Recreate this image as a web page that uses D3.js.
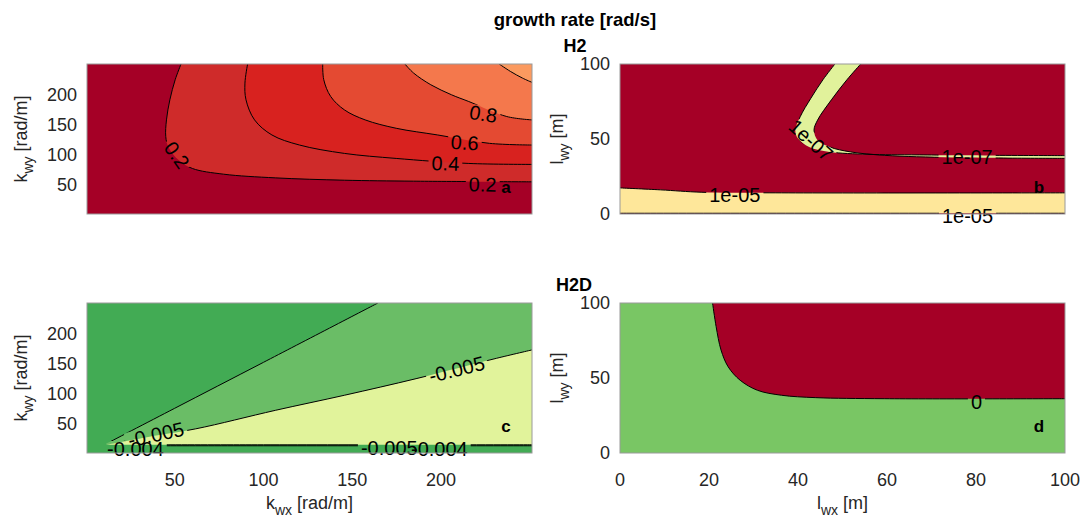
<!DOCTYPE html>
<html>
<head>
<meta charset="utf-8">
<script src="https://cdn.jsdelivr.net/npm/d3@7/dist/d3.min.js"></script>
<style>
  body { margin: 0; background: #fff; }
  svg text { font-family: "Liberation Sans", Arial, Helvetica, sans-serif; }
</style>
</head>
<body>
<svg id="fig" width="1080" height="518"></svg>
<script>
// ---- axis ranges and tick labels ----
const kDomain = [0.628, 251.3];          // wavenumber axes [rad/m]
const lDomain = [0, 100];                // wavelength axes [m]
const kTicks = [50, 100, 150, 200];
const lxTicks = [0, 20, 40, 60, 80, 100];
const lyTicks = [0, 50, 100];

// ---- panel a: H2 growth rate over (k_wx, k_wy) ----
const levelsA = [0.2, 0.4, 0.6, 0.8, 1.0];
const fillsA = ["#a50026", "#cf2b2a", "#d8221f", "#e44a32", "#f4784c", "#fb9a5f"];
const contA02 = [[53.6,251.3],[50.3,225.0],[47.3,191.4],[45.4,157.9],[45.0,129.9],[46.4,113.1],[52.2,90.7],[60.0,76.7],[77.5,67.2],[106.7,61.0],[145.6,57.1],[184.6,55.5],[251.3,54.4]];
const contA04 = [[91.1,251.3],[89.6,219.4],[90.2,191.4],[95.0,157.9],[104.8,132.7],[120.3,115.9],[145.6,101.9],[174.8,93.5],[215.7,85.1],[251.3,83.5]];
const contA06 = [[133.4,251.3],[134.0,225.0],[137.9,197.0],[145.6,174.7],[157.3,157.9],[174.8,143.9],[198.2,132.7],[227.4,118.7],[251.3,115.9]];
const contA08 = [[179.7,251.3],[184.6,236.2],[194.3,216.6],[206.0,199.8],[215.7,188.6],[237.1,163.5],[251.3,157.9]];
const contA10 = [[232.8,251.3],[239.1,239.0],[245.9,227.8],[251.3,220.6]];
const labelsA = [
  { text: "0.2", x: 51.2, y: 99.1, angle: 55 },
  { text: "0.2", x: 223.5, y: 49.9, angle: 1 },
  { text: "0.4", x: 202.5, y: 85.1, angle: 2 },
  { text: "0.6", x: 213.4, y: 119.8, angle: 4 },
  { text: "0.8", x: 223.9, y: 167.9, angle: 9 }
];

// ---- panel b: H2 growth rate over (l_wx, l_wy) ----
const fillsB = ["#a50026", "#e1f29b", "#fee79a"];
const contB07outer = [[48.3,100],[45.6,89.5],[42.9,77.2],[40.5,64.9],[39.4,55.9],[40.0,50.3],[42.5,44.7],[47.1,41.4],[55.7,39.8],[67.3,39.4],[100,38.9]];
const contB07inner = [[54.1,100],[51.0,89.5],[47.5,76.1],[44.4,62.6],[43.6,55.9],[44.4,49.2],[47.1,44.7],[51.8,41.4],[59.5,39.1],[75.0,37.6],[100,37.1]];
const contB05upper = [[0,17.4],[9.1,16.1],[18.4,14.5],[36.3,14.1],[100,14.1]];
const contB05lower = [[0,0.5],[50,0.5],[100,0.5]];
const labelsB = [
  { text: "1e-07", x: 42.9, y: 49.2, angle: 42 },
  { text: "1e-07", x: 78.0, y: 38.0, angle: 0 },
  { text: "1e-05", x: 25.8, y: 13.0, angle: 0 },
  { text: "1e-05", x: 78.1, y: -1.1, angle: 0 }
];

// ---- panel c: H2D growth rate over (k_wx, k_wy) ----
const fillsC = ["#42ab54", "#6abd66", "#e1f39b"];
const contCupper = [[11.3,15.8],[50,75.3],[100,152.1],[164.5,251.3]];
const contCmid = [[11.8,14.6],[35,27.5],[61.9,41.0],[106.7,71.9],[145.6,97.1],[186.5,125.2],[231.2,158.8],[251.3,172.9]];
const contCbot1 = [[11.8,14.3],[100,14.3],[251.3,14.3]];
const contCbot2 = [[13.5,12.7],[100,12.7],[251.3,12.7]];
const labelsC = [
  { text: "-0.005", x: 208.9, y: 140.3, angle: -14 },
  { text: "-0.005", x: 39.5, y: 31.5, angle: -12 },
  { text: "-0.004", x: 27.9, y: 7.4, angle: 0 },
  { text: "-0.005", x: 170.9, y: 8.5, angle: 0 },
  { text: "-0.004", x: 199.1, y: 7.4, angle: 0 }
];

// ---- panel d: H2D growth rate over (l_wx, l_wy) ----
const fillsD = ["#79c664", "#a50026"];
const contD0 = [[20.8,100],[21.6,84.3],[22.7,68.7],[24.3,57.5],[27.0,48.5],[30.9,41.8],[36.3,38.5],[44.0,36.9],[59.5,36.2],[100,36.2]];
const labelsD = [{ text: "0", x: 80.1, y: 34.0, angle: 0 }];

// ---- layout ----
const svg = d3.select("#fig");
const PW = 445, PH = 150;
const INK = "#262626";
const smooth = d3.line().curve(d3.curveCatmullRom.alpha(0.5));

function ringPath(parts, xs, ys) {
  let d = "";
  parts.forEach((pts, i) => {
    const px = pts.map(p => [xs(p[0]), ys(p[1])]);
    let seg;
    if (px.length === 1) seg = "L" + px[0][0] + "," + px[0][1];
    else {
      seg = smooth(px);
      if (i > 0) seg = "L" + seg.slice(1);
    }
    d += seg;
  });
  return d + "Z";
}

function panel(id, x0, y0, xDom, yDom, cfg) {
  const xs = d3.scaleLinear().domain(xDom).range([0, PW]);
  const ys = d3.scaleLinear().domain(yDom).range([PH, 0]);
  const g = svg.append("g").attr("transform", `translate(${x0},${y0})`);
  const defs = svg.append("defs");
  defs.append("clipPath").attr("id", "clip-" + id)
    .append("rect").attr("width", PW).attr("height", PH);

  const body = g.append("g").attr("clip-path", `url(#clip-${id})`);
  body.append("rect").attr("width", PW).attr("height", PH).attr("fill", cfg.background);
  cfg.regions.forEach(r => {
    body.append("path").attr("d", ringPath(r.parts, xs, ys)).attr("fill", r.fill);
  });

  // labels first (to measure), lines masked around them
  const lab = g.append("g");
  const texts = cfg.labels.map(l => {
    return lab.append("text")
      .attr("transform", `translate(${xs(l.x)},${ys(l.y)}) rotate(${l.angle})`)
      .attr("text-anchor", "middle").attr("dy", "0.35em")
      .attr("font-size", 20).attr("fill", "#000").text(l.text);
  });
  const mask = defs.append("mask").attr("id", "mask-" + id)
    .attr("maskUnits", "userSpaceOnUse")
    .attr("x", -20).attr("y", -20).attr("width", PW + 40).attr("height", PH + 40);
  mask.append("rect").attr("x", -20).attr("y", -20).attr("width", PW + 40).attr("height", PH + 40).attr("fill", "#fff");
  cfg.labels.forEach((l, i) => {
    const w = texts[i].node().getComputedTextLength() + 6;
    mask.append("rect")
      .attr("transform", `translate(${xs(l.x)},${ys(l.y)}) rotate(${l.angle})`)
      .attr("x", -w / 2).attr("y", -8).attr("width", w).attr("height", 16)
      .attr("fill", "#000");
  });
  const lines = body.append("g").attr("mask", `url(#mask-${id})`);
  cfg.lines.forEach(pts => {
    lines.append("path").attr("d", smooth(pts.map(p => [xs(p[0]), ys(p[1])])))
      .attr("fill", "none").attr("stroke", "#000").attr("stroke-width", 1);
  });
  lab.raise();

  // frame
  g.append("rect").attr("width", PW).attr("height", PH)
    .attr("fill", "none").attr("stroke", "#9a9a9a").attr("stroke-width", 1);

  // ticks
  if (cfg.xTicks) {
    g.selectAll(null).data(cfg.xTicks).join("text")
      .attr("x", d => xs(d)).attr("y", PH + 33)
      .attr("text-anchor", "middle").attr("font-size", 18).attr("fill", INK)
      .text(d => d);
  }
  g.selectAll(null).data(cfg.yTicks).join("text")
    .attr("x", -10).attr("y", d => ys(d)).attr("dy", "0.35em")
    .attr("text-anchor", "end").attr("font-size", 18).attr("fill", INK)
    .text(d => d);

  // panel letter
  g.append("text").attr("x", PW - 26).attr("y", PH - 21)
    .attr("font-size", 17).attr("font-weight", "bold").attr("fill", "#000")
    .attr("text-anchor", "middle").text(id);

  // axis titles
  const yl = g.append("text").attr("transform", `translate(${cfg.yLabelX},${PH / 2}) rotate(-90)`)
    .attr("text-anchor", "middle").attr("font-size", 18).attr("fill", INK);
  yl.append("tspan").text(cfg.yLabel[0]);
  yl.append("tspan").attr("dy", 6).attr("font-size", 14).text(cfg.yLabel[1]);
  yl.append("tspan").attr("dy", -6).text(" " + cfg.yLabel[2]);
  if (cfg.xLabel) {
    const xl = g.append("text").attr("x", PW / 2).attr("y", PH + 56)
      .attr("text-anchor", "middle").attr("font-size", 18).attr("fill", INK);
    xl.append("tspan").text(cfg.xLabel[0]);
    xl.append("tspan").attr("dy", 6).attr("font-size", 14).text(cfg.xLabel[1]);
    xl.append("tspan").attr("dy", -6).text(" " + cfg.xLabel[2]);
  }
}

const kmax = kDomain[1];

panel("a", 87, 64, kDomain, kDomain, {
  background: fillsA[0],
  regions: [contA02, contA04, contA06, contA08, contA10].map((c, i) => ({
    parts: [c, [[kmax, kmax]]], fill: fillsA[i + 1]
  })),
  lines: [contA02, contA04, contA06, contA08, contA10],
  labels: labelsA,
  yTicks: kTicks, yLabel: ["k", "wy", "[rad/m]"], yLabelX: -60
});

panel("b", 620, 64, lDomain, lDomain, {
  background: fillsB[0],
  regions: [
    { parts: [contB07outer, contB07inner.slice().reverse()], fill: fillsB[1] },
    { parts: [contB05upper, contB05lower.slice().reverse()], fill: fillsB[2] }
  ],
  lines: [contB07outer, contB07inner, contB05upper, contB05lower],
  labels: labelsB,
  yTicks: lyTicks, yLabel: ["l", "wy", "[m]"], yLabelX: -57
});

panel("c", 87, 303, kDomain, kDomain, {
  background: fillsC[0],
  regions: [
    { parts: [contCupper, [[kmax, kmax]], contCmid.slice().reverse()], fill: fillsC[1] },
    { parts: [contCmid, contCbot1.slice().reverse()], fill: fillsC[2] }
  ],
  lines: [contCupper, contCmid, contCbot1, contCbot2],
  labels: labelsC,
  xTicks: kTicks, xLabel: ["k", "wx", "[rad/m]"],
  yTicks: kTicks, yLabel: ["k", "wy", "[rad/m]"], yLabelX: -60
});

panel("d", 620, 303, lDomain, lDomain, {
  background: fillsD[0],
  regions: [{ parts: [contD0, [[100, 100]]], fill: fillsD[1] }],
  lines: [contD0],
  labels: labelsD,
  xTicks: lxTicks, xLabel: ["l", "wx", "[m]"],
  yTicks: lyTicks, yLabel: ["l", "wy", "[m]"], yLabelX: -57
});

// figure titles
svg.append("text").attr("x", 575).attr("y", 26).attr("text-anchor", "middle")
  .attr("font-size", 18.5).attr("font-weight", "bold").attr("fill", "#000")
  .text("growth rate [rad/s]");
svg.append("text").attr("x", 575).attr("y", 52).attr("text-anchor", "middle")
  .attr("font-size", 18).attr("font-weight", "bold").attr("fill", "#000").text("H2");
svg.append("text").attr("x", 574).attr("y", 291).attr("text-anchor", "middle")
  .attr("font-size", 18).attr("font-weight", "bold").attr("fill", "#000").text("H2D");
</script>
</body>
</html>
